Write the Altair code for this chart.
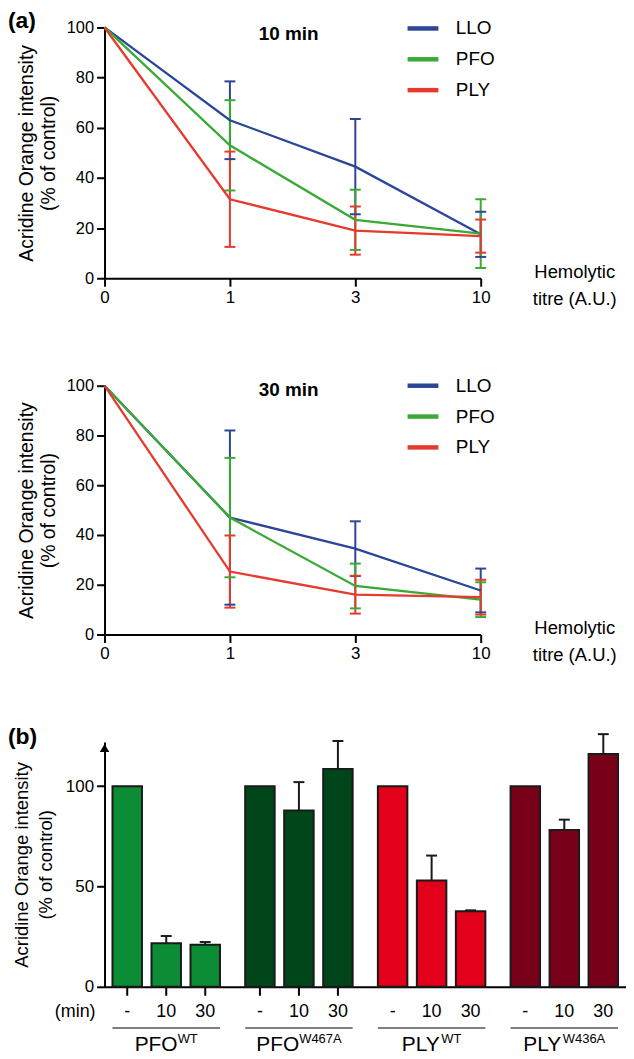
import altair as alt
import pandas as pd

# ---------------- data ----------------
titres = ["0", "1", "3", "10"]
series = ["LLO", "PFO", "PLY"]
line_colors = ["#2b4696", "#3aa935", "#e53a2d"]

# 10 min
llo_10 = [100, 63.0, 44.5, 17.5]
llo_10_err = [0, 15.5, 19.0, 9.0]
pfo_10 = [100, 53.0, 23.3, 17.8]
pfo_10_err = [0, 18.0, 12.0, 13.7]
ply_10 = [100, 31.5, 19.0, 16.8]
ply_10_err = [0, 19.0, 9.6, 6.6]

# 30 min
llo_30 = [100, 47.0, 34.5, 17.7]
llo_30_err = [0, 35.0, 11.0, 8.8]
pfo_30 = [100, 47.0, 19.5, 14.0]
pfo_30_err = [0, 24.0, 9.0, 7.0]
ply_30 = [100, 25.3, 16.0, 15.0]
ply_30_err = [0, 14.5, 7.6, 7.0]

# panel (b)
groups = ["PFO WT", "PFO W467A", "PLY WT", "PLY W436A"]
group_base = ["PFO", "PFO", "PLY", "PLY"]
group_sup = ["WT", "W467A", "WT", "W436A"]
group_colors = ["#0b8c35", "#00461a", "#e2001b", "#780019"]
conds = ["-", "10", "30"]
pfo_wt_vals = [100, 21.7, 21.0]
pfo_wt_err = [0, 3.6, 1.3]
pfo_mut_vals = [100, 87.8, 108.6]
pfo_mut_err = [0, 14.2, 13.9]
ply_wt_vals = [100, 53.0, 37.7]
ply_wt_err = [0, 12.4, 0.4]
ply_mut_vals = [100, 78.2, 116.0]
ply_mut_err = [0, 5.1, 9.9]
ticked_groups = ["PFO WT", "PFO W467A"]

FONT = "Liberation Sans"
AXIS_TITLE = ["Acridine Orange intensity", "(% of control)"]

# Arial/Liberation Sans advance widths (per 1000 em)
AW = {"P": 667, "F": 611, "O": 778, "L": 556, "Y": 667, "W": 944, "T": 611,
      "A": 667, "0": 556, "1": 556, "2": 556, "3": 556, "4": 556, "5": 556,
      "6": 556, "7": 556, "8": 556, "9": 556}


def tw(s, fs):
    return sum(AW.get(c, 556) for c in s) / 1000.0 * fs


def line_panel(vals, errs, title_txt, title_y, tag, H, legend_y):
    rows = []
    for s, v, e in zip(series, vals, errs):
        for t, m, er in zip(titres, v, e):
            rows.append(dict(series=s, titre=t, mean=m, err=er, lo=m - er, hi=m + er))
    df = pd.DataFrame(rows)
    edf = df[df.err > 0]

    x_axis = alt.Axis(
        title=["Hemolytic", "titre (A.U.)"], titleX=472, titleY=-1,
        titleAlign="center", titleBaseline="alphabetic", titleFontWeight="normal",
        titleFontSize=18.5, titleLineHeight=27, labelAngle=0, labelFontSize=17,
        labelPadding=3, tickSize=8,
    )
    x_enc = alt.X("titre:O", sort=titres, scale=alt.Scale(type="point", padding=0), axis=x_axis)
    y_axis = alt.Axis(
        values=[0, 20, 40, 60, 80, 100], title=AXIS_TITLE, titleFontSize=19.5,
        titleFontWeight="normal", titleLineHeight=22, titlePadding=8,
        labelFontSize=16.5, labelPadding=3, tickSize=8,
    )
    ysc = alt.Scale(domain=[0, 100], nice=False)
    color = alt.Color(
        "series:N", sort=series, scale=alt.Scale(domain=series, range=line_colors),
        legend=alt.Legend(title=None, orient="none", legendX=302, legendY=legend_y,
                          symbolType="stroke", symbolSize=961, symbolStrokeWidth=4.5,
                          labelFontSize=19, labelOffset=15, rowPadding=3, padding=0,
                          labelColor="black"),
    )
    rules = alt.Chart(edf).mark_rule(strokeWidth=2).encode(
        x=x_enc, y=alt.Y("lo:Q", scale=ysc, axis=y_axis), y2="hi:Q", color=color)
    caps_lo = alt.Chart(edf).mark_tick(size=11, thickness=2, opacity=1).encode(
        x=x_enc, y=alt.Y("lo:Q", scale=ysc, axis=y_axis), color=color)
    caps_hi = alt.Chart(edf).mark_tick(size=11, thickness=2, opacity=1).encode(
        x=x_enc, y=alt.Y("hi:Q", scale=ysc, axis=y_axis), color=color)
    lines = alt.Chart(df).mark_line(strokeWidth=2.3).encode(
        x=x_enc, y=alt.Y("mean:Q", scale=ysc, axis=y_axis), color=color)
    ttl = alt.Chart(pd.DataFrame({"t": [title_txt]})).mark_text(
        fontSize=19, fontWeight="bold", align="center", baseline="middle", color="black"
    ).encode(text="t:N", x=alt.value(185), y=alt.value(title_y))
    layers = [rules, caps_lo, caps_hi, lines, ttl]
    if tag:
        layers.append(alt.Chart(pd.DataFrame({"t": [tag]})).mark_text(
            fontSize=23, fontWeight="bold", align="left", baseline="middle", color="black"
        ).encode(text="t:N", x=alt.value(-97), y=alt.value(-6)))
    return alt.layer(*layers).properties(width=378, height=H)


p1 = line_panel([llo_10, pfo_10, ply_10], [llo_10_err, pfo_10_err, ply_10_err],
                "10 min", 7, "(a)", 252, -17)
p2 = line_panel([llo_30, pfo_30, ply_30], [llo_30_err, pfo_30_err, ply_30_err],
                "30 min", 4, None, 250, -18)

# ---------------- panel (b) ----------------
HB = 246
brows = []
for g, vals, errs in zip(groups, [pfo_wt_vals, pfo_mut_vals, ply_wt_vals, ply_mut_vals],
                         [pfo_wt_err, pfo_mut_err, ply_wt_err, ply_mut_err]):
    for c, v, e in zip(conds, vals, errs):
        brows.append(dict(group=g, cond=c, value=v, err=e, hi=v + e))
bdf = pd.DataFrame(brows)
bedf = bdf[bdf.err > 0]

xb = alt.X("group:N", sort=groups,
           scale=alt.Scale(paddingInner=0.19, paddingOuter=0.06),
           axis=alt.Axis(labels=False, ticks=False, title=None, domainWidth=2))
xo = alt.XOffset("cond:N", sort=conds, scale=alt.Scale(paddingInner=0.244, paddingOuter=0))
ysb = alt.Scale(domain=[0, 122], nice=False)
yb_axis = alt.Axis(values=[0, 50, 100], title=AXIS_TITLE, titleFontSize=18.5,
                   titleFontWeight="normal", titleLineHeight=24, titlePadding=10,
                   labelFontSize=17, labelPadding=3, tickSize=8)
gcol = alt.Color("group:N", sort=groups, scale=alt.Scale(domain=groups, range=group_colors),
                 legend=None)

bars = alt.Chart(bdf).mark_bar(stroke="#1a1a1a", strokeWidth=2).encode(
    x=xb, xOffset=xo, y=alt.Y("value:Q", scale=ysb, axis=yb_axis), color=gcol)
berr = alt.Chart(bedf).mark_rule(strokeWidth=2, color="#1a1a1a").encode(
    x=xb, xOffset=xo, y=alt.Y("value:Q", scale=ysb, axis=yb_axis), y2="hi:Q")
bcap = alt.Chart(bedf).mark_tick(size=11, thickness=2, color="#1a1a1a", opacity=1).encode(
    x=xb, xOffset=xo, y=alt.Y("hi:Q", scale=ysb, axis=yb_axis))
arrow = alt.Chart(pd.DataFrame({"a": [1]})).mark_point(
    shape="triangle-up", filled=True, size=90, color="black", opacity=1
).encode(x=alt.value(0), y=alt.datum(119))
xticks = alt.Chart(bdf[bdf.group.isin(ticked_groups)]).mark_rule(strokeWidth=2, color="black").encode(
    x=xb, xOffset=xo, y=alt.value(HB + 1), y2=alt.value(HB + 9))
cond_lbl = alt.Chart(bdf).mark_text(fontSize=18, baseline="middle", color="black").encode(
    x=xb, xOffset=xo, y=alt.value(HB + 25), text="cond:N")
min_lbl = alt.Chart(pd.DataFrame({"t": ["(min)"]})).mark_text(
    fontSize=18, align="right", baseline="middle", color="black"
).encode(text="t:N", x=alt.value(-9), y=alt.value(HB + 25))
underline = alt.Chart(pd.DataFrame({"group": groups})).mark_rect(color="black").encode(
    x=xb, y=alt.value(HB + 41), y2=alt.value(HB + 42))
tag_b = alt.Chart(pd.DataFrame({"t": ["(b)"]})).mark_text(
    fontSize=23, fontWeight="bold", align="left", baseline="middle", color="black"
).encode(text="t:N", x=alt.value(-97), y=alt.value(-5))

glabels = []
for g, b, s in zip(groups, group_base, group_sup):
    total = tw(b, 21) + tw(s, 13)
    dxb = -total / 2
    dxs = dxb + tw(b, 21)
    gdf = pd.DataFrame({"group": [g], "base": [b], "sup": [s]})
    glabels.append(alt.Chart(gdf).mark_text(
        fontSize=21, align="left", baseline="middle", dx=dxb, color="black"
    ).encode(x=xb, y=alt.value(HB + 59), text="base:N"))
    glabels.append(alt.Chart(gdf).mark_text(
        fontSize=13, align="left", baseline="middle", dx=dxs, color="black"
    ).encode(x=xb, y=alt.value(HB + 52), text="sup:N"))

p3 = alt.layer(bars, berr, bcap, arrow, xticks, cond_lbl, min_lbl, underline, tag_b,
               *glabels).properties(width=524, height=HB)

chart = alt.vconcat(p1, p2, p3, spacing=108, bounds="flush").resolve_scale(
    color="independent").resolve_legend(color="independent").properties(
    padding=0).configure(font=FONT).configure_view(stroke=None).configure_axis(
    grid=False, domainColor="black", domainWidth=2, tickColor="black", tickWidth=2,
    labelColor="black", titleColor="black", labelFont=FONT, titleFont=FONT)

chart.save("out.html", embed_options={"renderer": "svg", "actions": False})
